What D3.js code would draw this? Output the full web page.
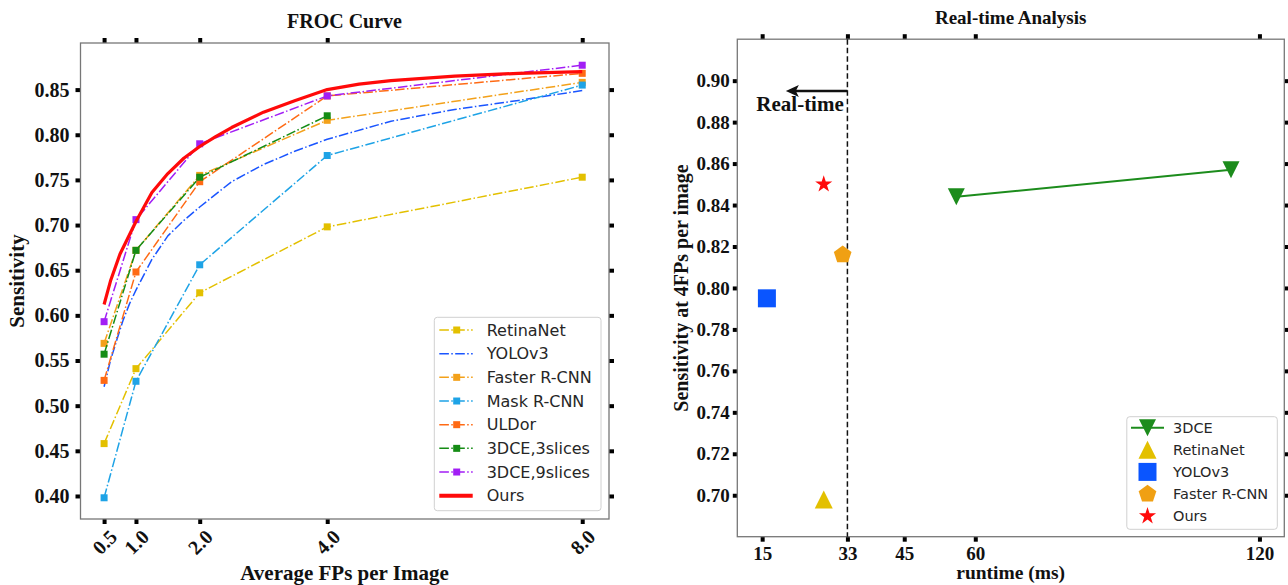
<!DOCTYPE html>
<html>
<head>
<meta charset="utf-8">
<script src="https://cdn.jsdelivr.net/npm/d3@7"></script>
<style>
  body { margin: 0; background: #fff; }
  .serif { font-family: "Liberation Serif", "Times New Roman", serif; font-weight: bold; fill: #111; }
  .sans { font-family: "DejaVu Sans", sans-serif; fill: #262626; }
</style>
</head>
<body>
<svg id="chart" width="1288" height="585"></svg>
<script>
// ---- FROC data (left panel) ----
const fpsLevels = [0.5, 1.0, 2.0, 4.0, 8.0]
const retinaNet = [0.458, 0.541, 0.625, 0.698, 0.753]
const fasterRcnn = [0.569, 0.672, 0.755, 0.816, 0.858]
const maskRcnn = [0.398, 0.527, 0.656, 0.777, 0.855]
const ulDor = [0.528, 0.648, 0.748, 0.843, 0.868]
const dce3Slices = [0.557, 0.672, 0.753, 0.821]
const dce9Slices = [0.593, 0.706, 0.790, 0.843, 0.877]
const yoloFps = [0.5, 0.6, 0.7, 0.8, 0.9, 1.0, 1.25, 1.5, 1.75, 2.0, 2.5, 3.0, 3.5, 4.0, 5.0, 6.0, 7.0, 8.0]
const yoloSens = [0.521, 0.55, 0.573, 0.595, 0.613, 0.628, 0.662, 0.688, 0.705, 0.72, 0.748, 0.767, 0.782, 0.795, 0.815, 0.828, 0.838, 0.849]
const oursFps = [0.5, 0.6, 0.75, 1.0, 1.25, 1.5, 1.75, 2.0, 2.25, 2.5, 3.0, 3.5, 4.0, 4.5, 5.0, 6.0, 7.0, 8.0]
const oursSens = [0.612, 0.638, 0.668, 0.704, 0.736, 0.757, 0.774, 0.787, 0.798, 0.808, 0.825, 0.838, 0.850, 0.856, 0.860, 0.865, 0.868, 0.870]
const frocYTicks = [0.40, 0.45, 0.50, 0.55, 0.60, 0.65, 0.70, 0.75, 0.80, 0.85]

// ---- runtime data (right panel) ----
const dceRuntime = [56, 114]
const dceSens = [0.844, 0.857]
const pointNames = ['RetinaNet', 'YOLOv3', 'Faster R-CNN', 'Ours']
const pointRuntime = [28, 16, 32, 28]
const pointSens = [0.698, 0.795, 0.816, 0.850]
const runtimeTicks = [15, 33, 45, 60, 120]
const rtYTicks = [0.70, 0.72, 0.74, 0.76, 0.78, 0.80, 0.82, 0.84, 0.86, 0.88, 0.90]
const realTimeLimit = 33

const svg = d3.select('#chart')
const dashDot = '9.6,2.4,1.5,2.4'

function styleTicks(g, labelSize) {
  g.select('.domain').remove()
  g.selectAll('.tick line').attr('stroke', '#000').attr('stroke-width', 4)
  g.selectAll('.tick text').attr('class', 'serif').style('font-size', labelSize + 'px')
}

// ================= LEFT: FROC Curve =================
const L = { x0: 80.5, x1: 609, y0: 43, y1: 519 }
const xL = d3.scaleLinear().domain([0.13, 8.42]).range([L.x0, L.x1])
const yL = d3.scaleLinear().domain([0.3745, 0.9016]).range([L.y1, L.y0])

const left = svg.append('g')

left.append('g').attr('transform', `translate(0,${L.y1})`)
  .call(d3.axisBottom(xL).tickValues(fpsLevels).tickFormat(d3.format('.1f')).tickSize(5).tickSizeOuter(0))
  .call(g => styleTicks(g, 20))
  .call(g => g.selectAll('.tick text')
    .attr('y', null).attr('dy', null)
    .attr('text-anchor', 'middle').attr('dominant-baseline', 'central')
    .attr('transform', 'translate(0,23) rotate(-45)'))
left.append('g').attr('transform', `translate(0,${L.y0})`)
  .call(d3.axisTop(xL).tickValues(fpsLevels).tickFormat('').tickSize(5).tickSizeOuter(0))
  .call(g => styleTicks(g, 20))
left.append('g').attr('transform', `translate(${L.x0},0)`)
  .call(d3.axisLeft(yL).tickValues(frocYTicks).tickFormat(d3.format('.2f')).tickSize(5).tickPadding(6).tickSizeOuter(0))
  .call(g => styleTicks(g, 20))
left.append('g').attr('transform', `translate(${L.x1},0)`)
  .call(d3.axisRight(yL).tickValues(frocYTicks).tickFormat('').tickSize(5).tickSizeOuter(0))
  .call(g => styleTicks(g, 20))

left.append('rect').attr('x', L.x0).attr('y', L.y0)
  .attr('width', L.x1 - L.x0).attr('height', L.y1 - L.y0)
  .attr('fill', 'none').attr('stroke', '#777').attr('stroke-width', 1.3)

const frocSeries = [
  { name: 'RetinaNet', fps: fpsLevels, sens: retinaNet, color: '#e3c000', marker: true },
  { name: 'YOLOv3', fps: yoloFps, sens: yoloSens, color: '#1a55ff', marker: false },
  { name: 'Faster R-CNN', fps: fpsLevels, sens: fasterRcnn, color: '#f3a11a', marker: true },
  { name: 'Mask R-CNN', fps: fpsLevels, sens: maskRcnn, color: '#1ea3e6', marker: true },
  { name: 'ULDor', fps: fpsLevels, sens: ulDor, color: '#ff6a14', marker: true },
  { name: '3DCE,3slices', fps: fpsLevels.slice(0, 4), sens: dce3Slices, color: '#158c15', marker: true },
  { name: '3DCE,9slices', fps: fpsLevels, sens: dce9Slices, color: '#a21ef5', marker: true },
  { name: 'Ours', fps: oursFps, sens: oursSens, color: '#ff0a0a', marker: false, solid: true }
]

const lineL = d3.line().x(d => xL(d[0])).y(d => yL(d[1]))

frocSeries.forEach(s => {
  const pts = s.fps.map((f, i) => [f, s.sens[i]])
  left.append('path').datum(pts)
    .attr('d', lineL)
    .attr('fill', 'none')
    .attr('stroke', s.color)
    .attr('stroke-width', s.solid ? 3.2 : 1.5)
    .attr('stroke-dasharray', s.solid ? null : dashDot)
    .attr('stroke-linejoin', 'round')
  if (s.marker) {
    left.selectAll(null).data(pts).enter().append('rect')
      .attr('x', d => xL(d[0]) - 3.5).attr('y', d => yL(d[1]) - 3.5)
      .attr('width', 7).attr('height', 7)
      .attr('fill', s.color)
  }
})

// legend
const legL = left.append('g')
legL.append('rect').attr('x', 434.3).attr('y', 317.3).attr('width', 166.7).attr('height', 193.4)
  .attr('rx', 3).attr('fill', '#fff').attr('fill-opacity', 0.85).attr('stroke', '#d0d0d0')
frocSeries.forEach((s, i) => {
  const yy = 330 + i * 23.67
  legL.append('line').attr('x1', 439.3).attr('x2', 472.7).attr('y1', yy).attr('y2', yy)
    .attr('stroke', s.color).attr('stroke-width', s.solid ? 4 : 1.5)
    .attr('stroke-dasharray', s.solid ? null : dashDot)
  if (s.marker) {
    legL.append('rect').attr('x', 456.7 - 3.5).attr('y', yy - 3.5).attr('width', 7).attr('height', 7).attr('fill', s.color)
  }
  legL.append('text').attr('class', 'sans').attr('x', 486.7).attr('y', yy)
    .attr('dominant-baseline', 'central').style('font-size', '16px').text(s.name)
})

left.append('text').attr('class', 'serif').attr('x', 344.5).attr('y', 27.5)
  .attr('text-anchor', 'middle').style('font-size', '20px').text('FROC Curve')
left.append('text').attr('class', 'serif').attr('x', 344.5).attr('y', 580)
  .attr('text-anchor', 'middle').style('font-size', '21px').text('Average FPs per Image')
left.append('text').attr('class', 'serif')
  .attr('transform', 'translate(24,281) rotate(-90)')
  .attr('text-anchor', 'middle').style('font-size', '21px').text('Sensitivity')

// ================= RIGHT: Real-time Analysis =================
const R = { x0: 737.3, x1: 1284.3, y0: 39.2, y1: 536.7 }
const xR = d3.scaleLinear().domain([9.75, 125.25]).range([R.x0, R.x1])
const yR = d3.scaleLinear().domain([0.68, 0.92]).range([R.y1, R.y0])

const right = svg.append('g')

right.append('g').attr('transform', `translate(0,${R.y1})`)
  .call(d3.axisBottom(xR).tickValues(runtimeTicks).tickSize(5).tickPadding(4.5).tickSizeOuter(0))
  .call(g => styleTicks(g, 19))
right.append('g').attr('transform', `translate(0,${R.y0})`)
  .call(d3.axisTop(xR).tickValues(runtimeTicks).tickFormat('').tickSize(5).tickSizeOuter(0))
  .call(g => styleTicks(g, 19))
right.append('g').attr('transform', `translate(${R.x0},0)`)
  .call(d3.axisLeft(yR).tickValues(rtYTicks).tickFormat(d3.format('.2f')).tickSize(4.5).tickPadding(3).tickSizeOuter(0))
  .call(g => styleTicks(g, 19))
right.append('g').attr('transform', `translate(${R.x1},0)`)
  .call(d3.axisRight(yR).tickValues(rtYTicks).tickFormat('').tickSize(5).tickSizeOuter(0))
  .call(g => styleTicks(g, 19))

right.append('rect').attr('x', R.x0).attr('y', R.y0)
  .attr('width', R.x1 - R.x0).attr('height', R.y1 - R.y0)
  .attr('fill', 'none').attr('stroke', '#777').attr('stroke-width', 1.3)

// real-time threshold
right.append('line')
  .attr('x1', xR(realTimeLimit)).attr('x2', xR(realTimeLimit))
  .attr('y1', R.y0).attr('y2', R.y1)
  .attr('stroke', '#111').attr('stroke-width', 1.5).attr('stroke-dasharray', '5.5,3')

// arrow + label
const arrowY = yR(0.895), tipX = xR(20)
right.append('line').attr('x1', xR(realTimeLimit)).attr('x2', tipX + 8).attr('y1', arrowY).attr('y2', arrowY)
  .attr('stroke', '#111').attr('stroke-width', 2.6)
right.append('path')
  .attr('d', `M${tipX},${arrowY} L${tipX + 13},${arrowY - 6} L${tipX + 10},${arrowY} L${tipX + 13},${arrowY + 6} Z`)
  .attr('fill', '#111')
right.append('text').attr('class', 'serif').attr('x', xR(23)).attr('y', yR(0.8855))
  .attr('text-anchor', 'middle').style('font-size', '21px').text('Real-time')

function markerPath(type, r) {
  if (type === 'tri-down') return `M${-r},${-r}L${r},${-r}L0,${r}Z`
  if (type === 'tri-up') return `M0,${-r}L${r},${r}L${-r},${r}Z`
  if (type === 'square') return `M${-r},${-r}H${r}V${r}H${-r}Z`
  let pts = []
  if (type === 'pentagon') {
    for (let k = 0; k < 5; k++) {
      const a = (-90 + 72 * k) * Math.PI / 180
      pts.push([r * Math.cos(a), r * Math.sin(a)])
    }
  } else {
    for (let k = 0; k < 10; k++) {
      const a = (-90 + 36 * k) * Math.PI / 180
      const rr = k % 2 ? r * 0.382 : r
      pts.push([rr * Math.cos(a), rr * Math.sin(a)])
    }
  }
  return 'M' + pts.map(p => p.join(',')).join('L') + 'Z'
}

const dceColor = '#1c8c1c'
const pointStyle = [
  { type: 'tri-up', r: 9, color: '#e3c000' },
  { type: 'square', r: 9, color: '#0a55ff' },
  { type: 'pentagon', r: 9.3, color: '#f0a013' },
  { type: 'star', r: 9, color: '#ff0a0a' }
]

const dcePts = dceRuntime.map((t, i) => [t, dceSens[i]])
right.append('path').datum(dcePts)
  .attr('d', d3.line().x(d => xR(d[0])).y(d => yR(d[1])))
  .attr('fill', 'none').attr('stroke', dceColor).attr('stroke-width', 2)
right.selectAll(null).data(dcePts).enter().append('path')
  .attr('transform', d => `translate(${xR(d[0])},${yR(d[1])})`)
  .attr('d', markerPath('tri-down', 8.5)).attr('fill', dceColor)

pointNames.forEach((n, i) => {
  const st = pointStyle[i]
  right.append('path')
    .attr('transform', `translate(${xR(pointRuntime[i])},${yR(pointSens[i])})`)
    .attr('d', markerPath(st.type, st.r)).attr('fill', st.color)
})

// legend
const legR = right.append('g')
legR.append('rect').attr('x', 1126.8).attr('y', 416.7).attr('width', 150.5).attr('height', 112.6)
  .attr('rx', 3).attr('fill', '#fff').attr('fill-opacity', 0.85).attr('stroke', '#d0d0d0')
const legNames = ['3DCE'].concat(pointNames)
legNames.forEach((n, i) => {
  const yy = 427.7 + i * 22.1
  if (i === 0) {
    legR.append('line').attr('x1', 1131).attr('x2', 1164).attr('y1', yy).attr('y2', yy)
      .attr('stroke', dceColor).attr('stroke-width', 2)
    legR.append('path').attr('transform', `translate(1147.5,${yy})`)
      .attr('d', markerPath('tri-down', 8.5)).attr('fill', dceColor)
  } else {
    const st = pointStyle[i - 1]
    legR.append('path').attr('transform', `translate(1147.5,${yy})`)
      .attr('d', markerPath(st.type, st.r)).attr('fill', st.color)
  }
  legR.append('text').attr('class', 'sans').attr('x', 1173).attr('y', yy)
    .attr('dominant-baseline', 'central').style('font-size', '14.5px').text(n)
})

right.append('text').attr('class', 'serif').attr('x', 1010.7).attr('y', 24)
  .attr('text-anchor', 'middle').style('font-size', '19px').text('Real-time Analysis')
right.append('text').attr('class', 'serif').attr('x', 1010.7).attr('y', 578.5)
  .attr('text-anchor', 'middle').style('font-size', '19.5px').text('runtime (ms)')
right.append('text').attr('class', 'serif')
  .attr('transform', 'translate(688,288) rotate(-90)')
  .attr('text-anchor', 'middle').style('font-size', '20px').text('Sensitivity at 4FPs per image')
</script>
</body>
</html>
